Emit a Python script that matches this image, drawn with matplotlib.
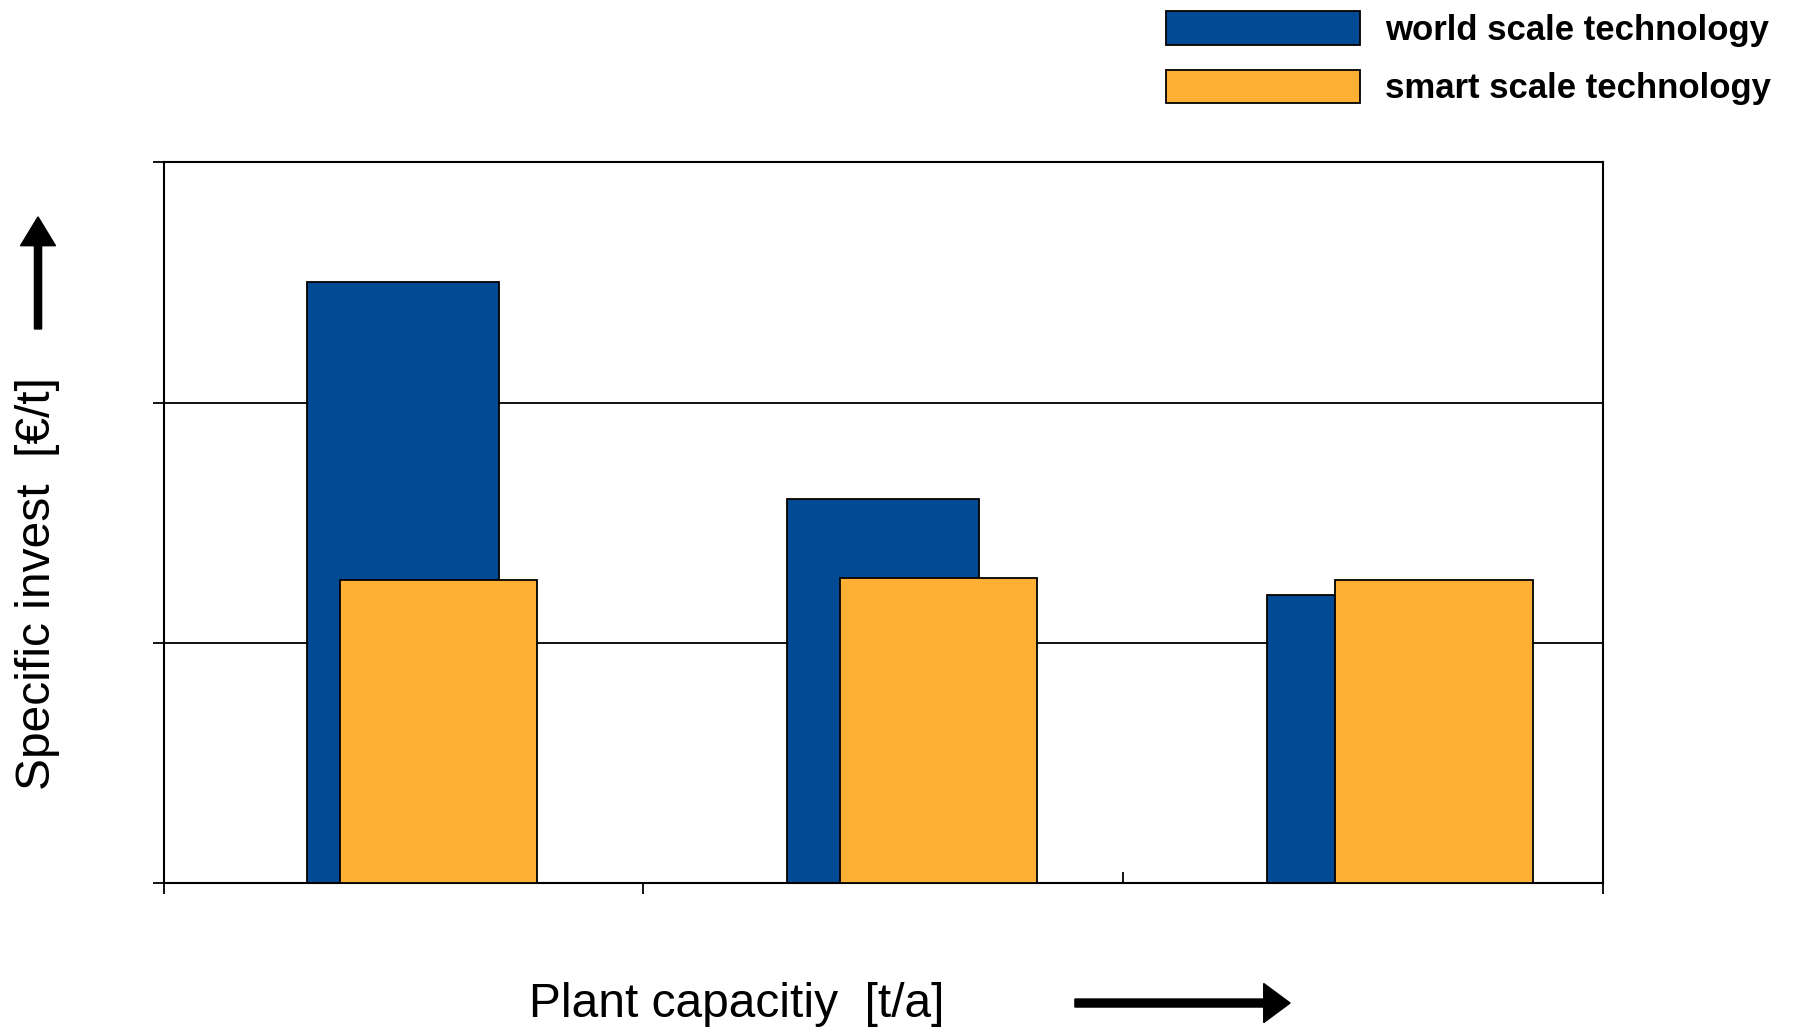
import matplotlib.pyplot as plt
import matplotlib.lines as mlines
from matplotlib.patches import FancyArrow

# data (y axis has no labels, unit = one grid step)
groups = [0.5, 1.5, 2.5]
world_scale = [2.50, 1.60, 1.20]
smart_scale = [1.26, 1.27, 1.26]
series_names = ['world scale technology', 'smart scale technology']

# layout
orange_shift = [0.073, 0.115, 0.148]
blue = '#024B94'
orange = '#FDB034'

plt.rcParams['font.family'] = ['Liberation Sans', 'DejaVu Sans']

fig = plt.figure(figsize=(17.93, 10.28), dpi=100)
ax = fig.add_axes([0.0912, 0.1412, 0.8029, 0.7008])

b1 = ax.bar(groups, world_scale, width=0.40, color=blue, edgecolor='black', linewidth=1.3, zorder=2,
            label=series_names[0])
b2 = ax.bar([g + s for g, s in zip(groups, orange_shift)], smart_scale, width=0.412, color=orange,
            edgecolor='black', linewidth=1.3, zorder=3, label=series_names[1])

ax.set_xlim(0, 3)
ax.set_ylim(0, 3)
ax.set_xticks([0, 1, 2, 3])
ax.set_yticks([0, 1, 2, 3])
ax.set_xticklabels([])
ax.set_yticklabels([])
ax.tick_params(direction='out', length=8, width=1.3, color='black')
ax.yaxis.grid(True, color='black', linewidth=1.3, zorder=1)
ax.set_axisbelow(True)
for sp in ax.spines.values():
    sp.set_linewidth(1.5)

# the tick at 2 points up into the plot in the original
ax.xaxis.get_major_ticks()[2].tick1line.set_marker(mlines.TICKUP)

# axis titles and arrows
fig.text(0.411, 0.011, 'Plant capacitiy  [t/a]', fontsize=34.5, ha='center', va='baseline')
fig.text(0.021, 0.432, 'Specific invest  [\u20ac/t]', fontsize=34.5, ha='center', va='center', rotation=90)
fig.add_artist(FancyArrow(0.5995, 0.0243, 0.12, 0, width=0.0078, head_width=0.038, head_length=0.0147,
                          length_includes_head=True, color='black', transform=fig.transFigure))
fig.add_artist(FancyArrow(0.0212, 0.68, 0, 0.109, width=0.0040, head_width=0.0195, head_length=0.028,
                          length_includes_head=True, color='black', transform=fig.transFigure))

fig.legend(handles=[b1, b2], loc='upper left', bbox_to_anchor=(1166 / 1793, 1 - 11 / 1028), frameon=False,
           prop={'weight': 'bold', 'size': 25}, handlelength=5.6, handleheight=1.12, labelspacing=0.66,
           handletextpad=0.72, borderpad=0, borderaxespad=0)

fig.savefig('out.png', dpi=100)
